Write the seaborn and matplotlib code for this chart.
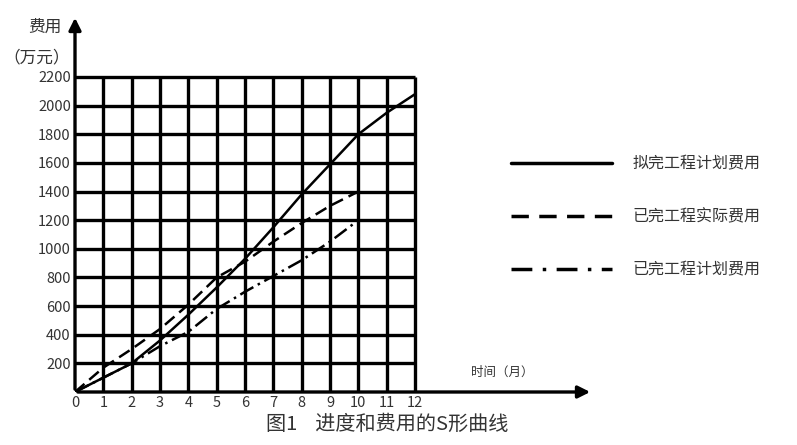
import numpy as np
import pandas as pd
import matplotlib
matplotlib.use('Agg')
import matplotlib.pyplot as plt
import seaborn as sns
from matplotlib.lines import Line2D

# data
months = [0, 1, 2, 3, 4, 5, 6, 7, 8, 9, 10, 11, 12]
planned = [0, 100, 200, 360, 540, 730, 930, 1150, 1380, 1590, 1800, 1950, 2080]
actual_months = [0, 1, 2, 3, 4, 5, 6, 7, 8, 9, 10]
actual = [0, 170, 300, 440, 610, 800, 910, 1050, 1180, 1300, 1400]
earned = [0, 100, 200, 320, 420, 580, 700, 810, 920, 1050, 1200]

series_names = ['拟完工程计划费用', '已完工程实际费用', '已完工程计划费用']
y_ticks = [200, 400, 600, 800, 1000, 1200, 1400, 1600, 1800, 2000, 2200]
x_ticks = list(range(13))

df = pd.concat([
    pd.DataFrame({'月': months, '费用': planned, '曲线': series_names[0]}),
    pd.DataFrame({'月': actual_months, '费用': actual, '曲线': series_names[1]}),
    pd.DataFrame({'月': actual_months, '费用': earned, '曲线': series_names[2]}),
])

sns.set_style('white')
plt.rcParams['font.family'] = ['Noto Sans CJK SC', 'DejaVu Sans']

fig = plt.figure(figsize=(7.97, 4.45), dpi=100)
ax = fig.add_axes([75 / 797, 53 / 445, 518 / 797, 377 / 445])
x_max = 518 / (340 / 12)
y_max = 377 / (315 / 2200)
ax.set_xlim(0, x_max)
ax.set_ylim(0, y_max)

# grid only inside the 0..12 x 0..2200 box
ax.hlines(y_ticks, 0, 12, color='black', lw=2.4, zorder=1)
ax.vlines(x_ticks[1:], 0, 2200, color='black', lw=2.4, zorder=1)

dashes = {series_names[0]: '', series_names[1]: (5, 2.5), series_names[2]: (6, 2, 1, 2)}
sns.lineplot(data=df, x='月', y='费用', hue='曲线', style='曲线',
             palette=['black'] * 3, dashes=dashes, lw=1.8, ax=ax, legend=False, zorder=3)

for s in ax.spines.values():
    s.set_visible(False)
ax.annotate('', xy=(0, 1), xytext=(0, 0), xycoords='axes fraction',
            arrowprops=dict(arrowstyle='-|>', color='black', lw=2.4, mutation_scale=18))
ax.annotate('', xy=(1, 0), xytext=(0, 0), xycoords='axes fraction',
            arrowprops=dict(arrowstyle='-|>', color='black', lw=2.4, mutation_scale=18))

ax.set_xticks(x_ticks)
ax.set_xticklabels([str(t) for t in x_ticks], fontsize=10.5, color='#333333')
ax.set_yticks(y_ticks)
ax.set_yticklabels([str(t) for t in y_ticks], fontsize=10.5, color='#333333')
ax.tick_params(length=0, pad=3)
ax.set_xlabel('')
ax.set_ylabel('')

fig.text(45 / 797, 1 - 27 / 445, '费用', fontsize=12, ha='center', va='center', color='#333333')
fig.text(37 / 797, 1 - 58 / 445, '（万元）', fontsize=12, ha='center', va='center', color='#333333')
fig.text(502 / 797, 1 - 372 / 445, '时间（月）', fontsize=9, ha='center', va='center', color='#333333')
fig.text(387 / 797, 1 - 424 / 445, '图1    进度和费用的S形曲线', fontsize=14.5, ha='center', va='center', color='#333333')

# legend on the right
handles = [
    Line2D([], [], color='black', lw=2.5),
    Line2D([], [], color='black', lw=2.5, dashes=(5, 3)),
    Line2D([], [], color='black', lw=2.5, dashes=(6, 3, 1, 3)),
]
fig.legend(handles, series_names, loc='upper left', bbox_to_anchor=(497 / 797, 1 - 141 / 445),
           frameon=False, fontsize=11.5, handlelength=6.3, handletextpad=1.3,
           labelspacing=2.25, labelcolor='#333333')

fig.savefig('out.png', dpi=100)
